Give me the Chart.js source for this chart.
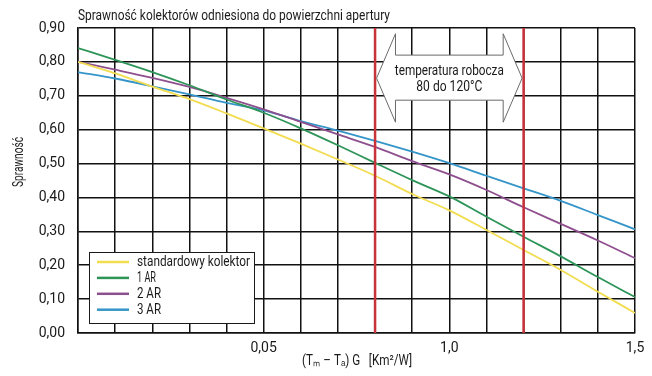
<!DOCTYPE html>
<html>
<head>
<meta charset="utf-8">
<script src="https://cdn.jsdelivr.net/npm/chart.js@4.4.1/dist/chart.umd.min.js"></script>
<style>
  html, body { margin: 0; padding: 0; background: #ffffff; }
  #wrap { width: 652px; height: 376px; position: relative; }
</style>
</head>
<body>
<div id="wrap"><canvas id="c" width="652" height="376"></canvas></div>
<script>
// ---- data ----
const xValues = [0, 0.01, 0.02, 0.03, 0.04, 0.05, 0.06, 0.07, 0.08, 0.09, 0.10, 0.11, 0.12, 0.13, 0.14, 0.15];
const standardowy = [0.800, 0.766, 0.727, 0.690, 0.648, 0.604, 0.559, 0.512, 0.464, 0.410, 0.362, 0.304, 0.245, 0.186, 0.122, 0.059];
const ar1 = [0.841, 0.806, 0.770, 0.731, 0.689, 0.650, 0.604, 0.554, 0.502, 0.451, 0.403, 0.343, 0.284, 0.226, 0.165, 0.106];
const ar2 = [0.800, 0.777, 0.753, 0.726, 0.694, 0.660, 0.623, 0.586, 0.549, 0.507, 0.468, 0.422, 0.371, 0.322, 0.273, 0.221];
const ar3 = [0.770, 0.751, 0.728, 0.704, 0.679, 0.657, 0.625, 0.597, 0.567, 0.535, 0.501, 0.464, 0.427, 0.390, 0.348, 0.306];
const seriesNames = ['standardowy kolektor', '1 AR', '2 AR', '3 AR'];
const xLabelValues = [0.05, 0.10, 0.15];
const xLabelTexts = ['0,05', '1,0', '1,5'];
const rangeLimits = [0.08, 0.12];
const chartTitle = 'Sprawność kolektorów odniesiona do powierzchni apertury';
const yTitle = 'Sprawność';
const xTitle = '(Tₘ – Tₐ) G   [Km²/W]';
const rangeText = ['temperatura robocza', '80 do 120°C'];

const colors = ['#f2dc50', '#2e9558', '#8e4f8e', '#3595c8'];
const FONT = "Roboto, 'Liberation Sans', sans-serif";

function toPoints(arr) { return xValues.map((x, i) => ({ x: x, y: arr[i] })); }
const allSeries = [standardowy, ar1, ar2, ar3];

// draw text horizontally condensed so it fits a given width (reference uses a condensed face)
function drawFit(ctx, text, x, y, width, size, align) {
  ctx.save();
  ctx.font = size + 'px ' + FONT;
  const w = ctx.measureText(text).width;
  const sx = Math.min(1, width / w);
  ctx.translate(x, y);
  ctx.scale(sx, 1);
  ctx.textAlign = align;
  ctx.textBaseline = 'middle';
  ctx.fillText(text, 0, 0);
  ctx.restore();
}

const decor = {
  id: 'decor',
  afterDatasetsDraw(chart) {
    const ctx = chart.ctx, xs = chart.scales.x, ys = chart.scales.y, ca = chart.chartArea;
    ctx.save();
    // red range lines
    ctx.strokeStyle = '#c8323a';
    ctx.lineWidth = 2.5;
    rangeLimits.forEach(v => {
      const px = xs.getPixelForValue(v);
      ctx.beginPath(); ctx.moveTo(px, ca.top); ctx.lineTo(px, ca.bottom); ctx.stroke();
    });
    // double arrow
    const L = xs.getPixelForValue(rangeLimits[0]) + 1.5, R = xs.getPixelForValue(rangeLimits[1]) - 1.5;
    const hL = xs.getPixelForValue(0.0855), hR = xs.getPixelForValue(0.1145);
    const yMid = ys.getPixelForValue(0.752);
    const bTop = ys.getPixelForValue(0.820), bBot = ys.getPixelForValue(0.687);
    const hTop = ys.getPixelForValue(0.883), hBot = ys.getPixelForValue(0.622);
    ctx.beginPath();
    ctx.moveTo(L, yMid);
    ctx.lineTo(hL, hTop); ctx.lineTo(hL, bTop); ctx.lineTo(hR, bTop); ctx.lineTo(hR, hTop);
    ctx.lineTo(R, yMid);
    ctx.lineTo(hR, hBot); ctx.lineTo(hR, bBot); ctx.lineTo(hL, bBot); ctx.lineTo(hL, hBot);
    ctx.closePath();
    ctx.fillStyle = '#ffffff'; ctx.fill();
    ctx.strokeStyle = '#6a6a6a'; ctx.lineWidth = 1; ctx.stroke();
    ctx.fillStyle = '#1a1a1a';
    const cx = (L + R) / 2;
    drawFit(ctx, rangeText[0], cx, yMid - 6.5, 109, 14, 'center');
    drawFit(ctx, rangeText[1], cx, yMid + 9.5, 66, 14, 'center');
    // legend box
    const bx = 89, by = 252, bw = 165, bh = 71;
    ctx.fillStyle = '#ffffff'; ctx.fillRect(bx, by, bw, bh);
    ctx.strokeStyle = '#1a1a1a'; ctx.lineWidth = 1; ctx.strokeRect(bx + 0.5, by + 0.5, bw, bh);
    const legendWidths = [113, 19, 24, 24];
    seriesNames.forEach((n, i) => {
      const yy = 262 + i * 15.9;
      ctx.strokeStyle = colors[i]; ctx.lineWidth = 2.5;
      ctx.beginPath(); ctx.moveTo(97, yy); ctx.lineTo(129, yy); ctx.stroke();
      ctx.fillStyle = '#1a1a1a';
      drawFit(ctx, n, 137, yy + 0.5, legendWidths[i], 14, 'left');
    });
    // titles
    ctx.fillStyle = '#1a1a1a';
    drawFit(ctx, chartTitle, 78, 16, 312, 14, 'left');
    drawFit(ctx, xTitle, 357, 361, 110, 14, 'center');
    ctx.translate(19, 162); ctx.rotate(-Math.PI / 2);
    drawFit(ctx, yTitle, 0, 0, 50, 14, 'center');
    ctx.restore();
  }
};

new Chart(document.getElementById('c'), {
  type: 'line',
  data: {
    datasets: allSeries.map((arr, i) => ({
      label: seriesNames[i],
      data: toPoints(arr),
      borderColor: colors[i],
      backgroundColor: colors[i],
      borderWidth: 1.8,
      pointRadius: 0,
      cubicInterpolationMode: 'monotone',
      fill: false
    }))
  },
  options: {
    responsive: false,
    animation: false,
    devicePixelRatio: 1,
    layout: { padding: { left: 0, right: 17, top: 28, bottom: 0 } },
    plugins: { legend: { display: false }, tooltip: { enabled: false }, title: { display: false } },
    scales: {
      x: {
        type: 'linear', min: 0, max: 0.15,
        afterFit(s) { s.height = 43; },
        border: { display: true, color: '#111', width: 1.5 },
        grid: { color: '#111', lineWidth: 1.5, drawTicks: false, tickLength: 0 },
        ticks: {
          stepSize: 0.01, autoSkip: false, maxRotation: 0, padding: 7,
          color: '#1a1a1a', font: { family: FONT, size: 14 },
          callback(v) {
            const k = xLabelValues.findIndex(t => Math.abs(t - v) < 1e-6);
            return k >= 0 ? xLabelTexts[k] : '';
          }
        }
      },
      y: {
        min: 0, max: 0.9,
        afterFit(s) { s.width = 78; },
        border: { display: true, color: '#111', width: 1.5 },
        grid: { color: '#111', lineWidth: 1.5, drawTicks: false, tickLength: 0 },
        ticks: {
          stepSize: 0.1, padding: 13,
          color: '#1a1a1a', font: { family: FONT, size: 14 },
          callback(v) { return v.toFixed(2).replace('.', ','); }
        }
      }
    }
  },
  plugins: [decor]
});
</script>
</body>
</html>
